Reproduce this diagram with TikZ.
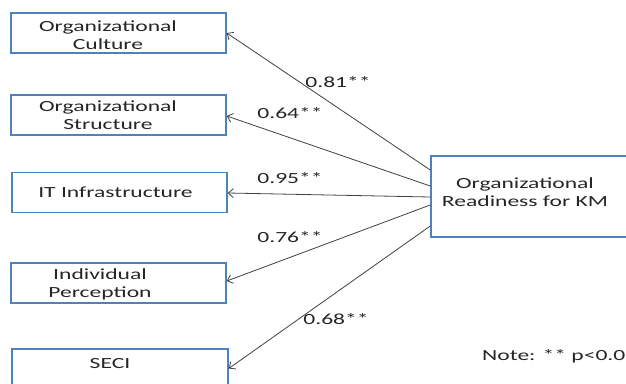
\documentclass[tikz,border=0pt]{standalone}
\usepackage{fontspec}
\setmainfont{Carlito}[FakeStretch=1.52]
\usetikzlibrary{arrows.meta,calc}
\definecolor{boxblue}{HTML}{4F81BD}
\definecolor{txt}{HTML}{262626}
\definecolor{arr}{HTML}{404040}
\begin{document}
\begin{tikzpicture}[x=1pt,y=-1pt,
  box/.style={draw=boxblue,line width=1.5pt,fill=white,inner sep=0pt},
  lbl/.style={text=txt,font=\fontsize{15.5}{18}\selectfont,inner sep=0pt,align=center,anchor=base},
  coef/.style={text=txt,font=\fontsize{15.5}{18}\selectfont,inner sep=0pt,anchor=base},
  link/.style={draw=arr,line width=0.8pt,-{Straight Barb[length=5pt,width=9pt]}}]
\useasboundingbox (0,0) rectangle (626,383);
% boxes
\node[box,minimum width=215pt,minimum height=40pt] (cult) at (118.5,33) {};
\node[box,minimum width=215pt,minimum height=40pt] (struc) at (118.5,115) {};
\node[box,minimum width=215pt,minimum height=40pt] (it) at (119.5,192.5) {};
\node[box,minimum width=215pt,minimum height=40pt] (ind) at (118.5,283) {};
\node[box,minimum width=216pt,minimum height=39pt] (seci) at (120,368.5) {};
\node[box,minimum width=196pt,minimum height=81pt] (ready) at (529,196.5) {};
% texts (base anchor = baseline of last line)
\node[lbl] (cult-t) at (108,49) {Organizational\\Culture};
\node[lbl] (struc-t) at (108,129) {Organizational\\Structure};
\node[lbl] (it-t) at (115.5,197) {IT Infrastructure};
\node[lbl] (ind-t) at (100,297) {Individual\\Perception};
\node[lbl] (seci-t) at (110,368) {SECI};
\node[lbl] (ready-t) at (525,206) {Organizational\\Readiness for KM};
% connectors
\draw[link] ([yshift=26.5pt]ready.west) -- (cult.east);
\draw[link] ([yshift=10.5pt]ready.west) -- ([yshift=-1pt]struc.east);
\draw[link] ([yshift=-0.5pt]ready.west) -- ([yshift=-0.5pt]it.east);
\draw[link] ([yshift=-8.5pt]ready.west) -- ([yshift=2pt]ind.east);
\draw[link] ([yshift=-29.5pt]ready.west) -- (seci.east);
% coefficients
\node[coef] (c1) at (338,87) {0.81**};
\node[coef] (c2) at (290,118) {0.64**};
\node[coef] (c3) at (290,183) {0.95**};
\node[coef] (c4) at (290,242) {0.76**};
\node[coef] (c5) at (336,324) {0.68**};
\node[coef,anchor=base west] (note) at (482,360) {Note: ** p<0.0};
\end{tikzpicture}
\end{document}
